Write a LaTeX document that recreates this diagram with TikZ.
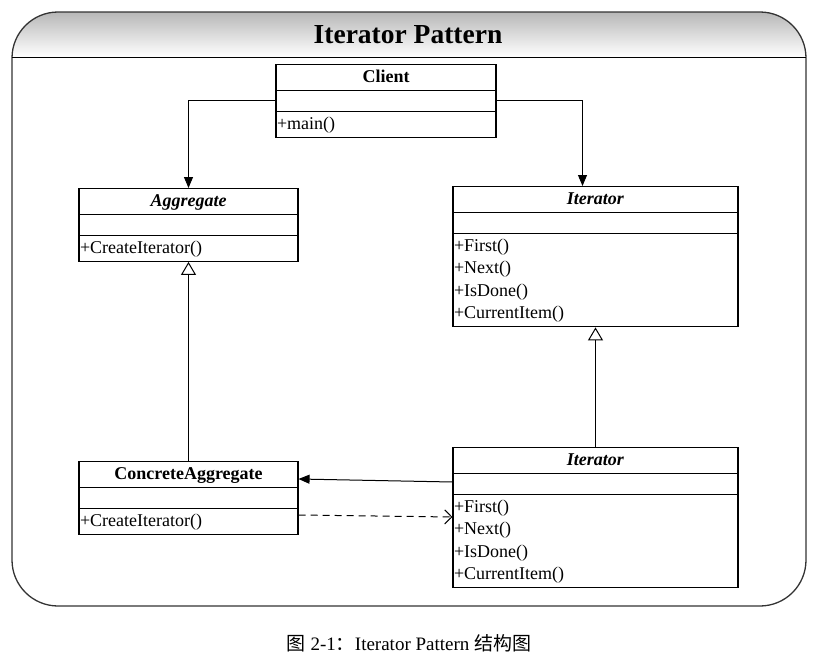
\documentclass[tikz,border=0pt]{standalone}
\usepackage{fontspec}
\setmainfont{Liberation Serif}
\newfontfamily\cjk{Noto Sans CJK SC}
\usetikzlibrary{arrows.meta,shapes.multipart}

\newcommand{\hd}[1]{\makebox[\linewidth][c]{\rule[-7pt]{0pt}{23pt}\textbf{#1}}}
\newcommand{\emptyrow}{\rule{0pt}{18pt}}
\newcommand{\op}[1]{\rule[-6.5pt]{0pt}{22.5pt}+#1}

\begin{document}
\begin{tikzpicture}[x=1pt,y=-1pt]
	\useasboundingbox (0,0) rectangle (815,656);

	\begin{scope}
		\clip[rounded corners=46pt] (12,12) rectangle (806,606);
		\shade[top color=black!28, bottom color=white] (12,12) rectangle (806,57);
	\end{scope}
	\draw[line width=1.3pt, draw=black!80, rounded corners=46pt] (12,12) rectangle (806,606);
	\draw[line width=1pt] (12,57) -- (806,57);
	\node[font=\fontsize{27.5}{30}\selectfont\bfseries] (title) at (408,35) {Iterator Pattern};

	\begin{scope}[every node/.style={rectangle split, rectangle split parts=3, draw, line width=1.1pt,
		anchor=north, inner xsep=1pt, inner ysep=1pt, align=left,
		font=\fontsize{18}{22.5}\selectfont}]
		\node[text width=218pt] (client) at (386,64)
			{\hd{Client}\nodepart{two}\emptyrow\nodepart{three}\op{main()}};
		\node[text width=217pt] (agg) at (188.5,188)
			{\hd{\textit{Aggregate}}\nodepart{two}\emptyrow\nodepart{three}\op{CreateIterator()}};
		\node[text width=283pt] (iter) at (595.5,186)
			{\hd{\textit{Iterator}}\nodepart{two}\emptyrow\nodepart{three}\op{First()}\\\op{Next()}\\\op{IsDone()}\\\op{CurrentItem()}};
		\node[text width=217pt] (conc) at (188.5,461)
			{\hd{ConcreteAggregate}\nodepart{two}\emptyrow\nodepart{three}\op{CreateIterator()}};
		\node[text width=283pt] (citer) at (595.5,447)
			{\hd{\textit{Iterator}}\nodepart{two}\emptyrow\nodepart{three}\op{First()}\\\op{Next()}\\\op{IsDone()}\\\op{CurrentItem()}};
	\end{scope}

	\begin{scope}[>={Triangle[length=11pt,width=9pt]}, line width=1pt]
		\draw[->] (client.west) -| (agg.north);
		\draw[->] (client.east) -| ([xshift=-13pt]iter.north);
		\draw[-{Triangle[open,length=13pt,width=15pt]}] (conc.north) -- (agg.south);
		\draw[-{Triangle[open,length=13pt,width=15pt]}] (citer.north) -- (iter.south);
		\draw[->] ([yshift=-35pt]citer.north west) -- ([yshift=-18pt]conc.north east);
		\draw[dash pattern=on 7pt off 5pt, -{Straight Barb[length=7pt,width=14pt]}]
			([yshift=-54pt]conc.north east) -- ([yshift=-70pt]citer.north west);
	\end{scope}

	\node[font=\fontsize{19}{22}\selectfont] (caption) at (409,643)
		{{\cjk 图} 2-1{\cjk ：}Iterator Pattern {\cjk 结构图}};
\end{tikzpicture}
\end{document}
